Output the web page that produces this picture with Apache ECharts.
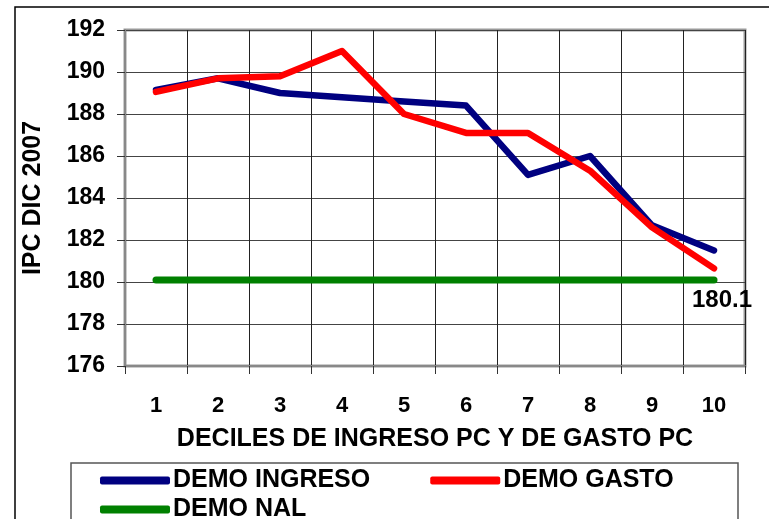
<!DOCTYPE html>
<html>
<head>
<meta charset="utf-8">
<script src="https://cdn.jsdelivr.net/npm/echarts@6/dist/echarts.min.js"></script>
<style>
  html, body { margin: 0; padding: 0; background: #fff; }
  #chart { width: 769px; height: 519px; }
</style>
</head>
<body>
<div id="chart"></div>
<script>
// --- datos ---
const deciles = ['1', '2', '3', '4', '5', '6', '7', '8', '9', '10']
const demoIngreso = [189.15, 189.7, 189.0, 188.8, 188.6, 188.4, 185.1, 186.0, 182.7, 181.5]
const demoGasto = [189.05, 189.7, 189.8, 191.0, 188.0, 187.1, 187.1, 185.3, 182.6, 180.65]
const demoNal = [180.1, 180.1, 180.1, 180.1, 180.1, 180.1, 180.1, 180.1, 180.1, 180.1]
const yTicks = { min: 176, max: 192, step: 2 }

const font = 'Liberation Sans, Arial, sans-serif'

const chart = echarts.init(document.getElementById('chart'))

// estilo comun de las lineas
const lineSeries = (name, data, color, width) => ({
  name,
  type: 'line',
  data,
  symbol: 'none',
  color,
  lineStyle: { width, color, cap: 'round', join: 'round' },
})

const legendText = { fontFamily: font, fontWeight: 'bold', fontSize: 25, color: '#000', padding: [0, 0, 0, -2] }

const options = {
  animation: false,
  grid: {
    left: 125, right: 24, top: 30, bottom: 153,
    show: true, borderColor: '#999', borderWidth: 3,
  },
  xAxis: {
    type: 'category',
    data: deciles,
    name: 'DECILES DE INGRESO PC Y DE GASTO PC',
    nameLocation: 'middle',
    nameGap: 61,
    nameTextStyle: { fontFamily: font, fontWeight: 'bold', fontSize: 25, color: '#000' },
    axisLine: { lineStyle: { color: '#888', width: 2 } },
    axisTick: { show: true, length: 8, lineStyle: { color: '#333' } },
    axisLabel: { margin: 29, fontFamily: font, fontWeight: 'bold', fontSize: 22, color: '#000' },
    splitLine: { show: true, interval: 0, lineStyle: { color: '#222', width: 1 } },
  },
  yAxis: {
    type: 'value',
    min: yTicks.min,
    max: yTicks.max,
    interval: yTicks.step,
    name: 'IPC DIC 2007',
    nameLocation: 'middle',
    nameGap: 79,
    nameTextStyle: { fontFamily: font, fontWeight: 'bold', fontSize: 25, color: '#000' },
    axisLine: { show: true, lineStyle: { color: '#888', width: 2 } },
    axisTick: { show: true, length: 8, lineStyle: { color: '#333' } },
    axisLabel: { margin: 20, fontFamily: font, fontWeight: 'bold', fontSize: 23, color: '#000' },
    splitLine: { show: true, lineStyle: { color: '#444', width: 1 } },
  },
  legend: [
    {
      data: ['DEMO INGRESO', 'DEMO GASTO'],
      left: 95, top: 463,
      itemWidth: 70, itemHeight: 8, itemGap: 60,
      icon: 'roundRect',
      textStyle: legendText,
    },
    {
      data: ['DEMO NAL'],
      left: 95, top: 492,
      itemWidth: 70, itemHeight: 8,
      icon: 'roundRect',
      textStyle: legendText,
    },
  ],
  graphic: [
    // marco exterior
    { type: 'rect', shape: { x: 15, y: 7, width: 800, height: 600 }, style: { fill: 'none', stroke: '#000', lineWidth: 1.5 }, silent: true },
    // caja de la leyenda
    { type: 'rect', shape: { x: 71, y: 463, width: 667, height: 80 }, style: { fill: 'none', stroke: '#555', lineWidth: 1.5 }, silent: true },
  ],
  series: [
    lineSeries('DEMO INGRESO', demoIngreso, '#000080', 6.5),
    lineSeries('DEMO GASTO', demoGasto, '#ff0000', 6.5),
    {
      ...lineSeries('DEMO NAL', demoNal, '#008000', 7),
      z: 1,
      symbol: 'circle',
      symbolSize: 1,
      showSymbol: true,
      label: {
        show: true,
        position: 'bottom',
        distance: 8,
        offset: [8, 0],
        fontFamily: font, fontWeight: 'bold', fontSize: 24, color: '#000',
        formatter: (p) => (p.dataIndex === demoNal.length - 1 ? String(p.value) : ''),
      },
    },
  ],
}

chart.setOption(options)
</script>
</body>
</html>
